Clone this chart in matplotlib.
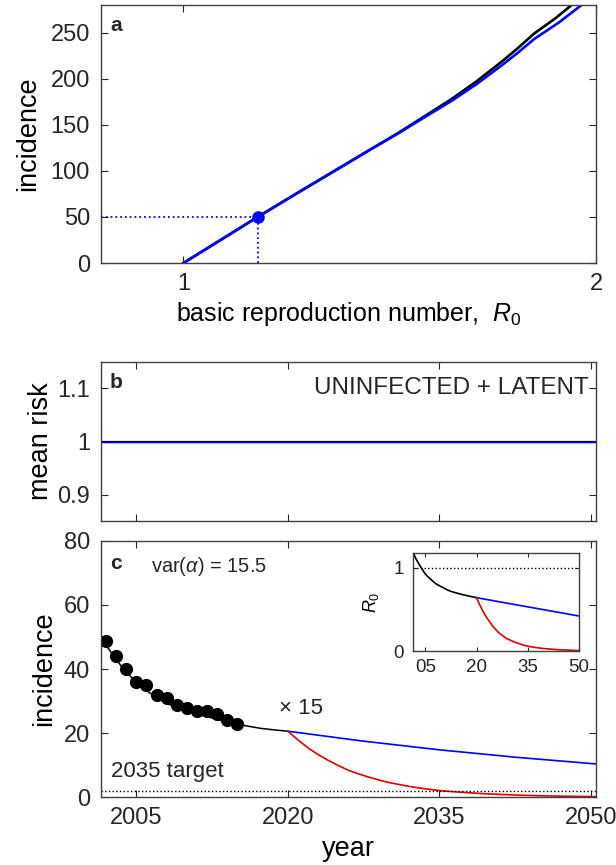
import matplotlib
matplotlib.use("Agg")
import matplotlib.pyplot as plt

plt.rcParams['font.family'] = ['Liberation Sans', 'DejaVu Sans']
plt.rcParams['mathtext.fontset'] = 'custom'
plt.rcParams['mathtext.rm'] = 'Liberation Sans'
plt.rcParams['mathtext.it'] = 'Liberation Sans:italic'
plt.rcParams['text.color'] = '#262626'
plt.rcParams['axes.edgecolor'] = '#404040'
plt.rcParams['xtick.color'] = '#262626'
plt.rcParams['ytick.color'] = '#262626'

# panel a: incidence vs R0
r0_black = [1.0, 1.09, 1.18, 1.28, 1.34, 1.40, 1.46, 1.52, 1.58, 1.65, 1.71, 1.77, 1.81, 1.85, 1.90, 1.941]
inc_black = [0, 25, 50, 77, 93, 109, 125, 141, 158, 178, 197, 218, 233, 249, 265, 280]
r0_blue = [1.0, 1.09, 1.18, 1.28, 1.34, 1.40, 1.46, 1.52, 1.58, 1.65, 1.71, 1.77, 1.81, 1.85, 1.91, 1.965]
inc_blue = [0, 25, 50, 77, 93, 109, 125, 140.5, 157, 176, 194, 214, 228, 243, 261, 280]
r0_point = 1.18
inc_point = 50

# panel b: mean risk
risk_years = [2001.5, 2050.5]
risk_vals = [1.0, 1.0]

# panel c: incidence over time
data_years = [2002, 2003, 2004, 2005, 2006, 2007, 2008, 2009, 2010, 2011, 2012, 2013, 2014, 2015]
data_inc = [48.7, 43.9, 39.9, 35.9, 34.9, 32.0, 30.9, 28.9, 27.9, 26.8, 26.8, 26.0, 24.0, 23.0]
fit_years = [2001.5, 2002.2, 2003, 2003.8, 2004.7, 2005.5, 2006.4, 2007.2, 2008, 2008.8,
             2009.7, 2010.5, 2011.3, 2012.2, 2013, 2014.6, 2016, 2017.3, 2018.7, 2020]
fit_inc = [50.5, 46.5, 43.0, 39.7, 36.8, 34.4, 32.4, 30.8, 29.3, 28.2,
           27.2, 26.4, 25.7, 25.0, 24.3, 23.1, 22.2, 21.5, 21.0, 20.6]
blue_years = [2020, 2027.5, 2035, 2042.5, 2050.5]
blue_inc = [20.6, 17.5, 14.8, 12.5, 10.4]
red_years = [2020, 2021, 2022, 2023, 2024, 2025, 2026, 2027, 2028, 2029, 2030, 2031, 2032,
             2033, 2034, 2035, 2037, 2039, 2041, 2043, 2045, 2047, 2050.5]
red_inc = [20.6, 17.9, 15.4, 13.3, 11.5, 9.9, 8.4, 7.3, 6.3, 5.4, 4.6, 4.0, 3.4,
           2.9, 2.5, 2.1, 1.6, 1.2, 0.9, 0.65, 0.48, 0.35, 0.2]
target = 2.1

# inset: R0 over time
ins_black_years = [2001.5, 2002, 2002.5, 2003, 2003.5, 2004.2, 2004.9, 2005.8, 2006.9, 2008,
                   2009.3, 2010.7, 2012.2, 2013.8, 2015.6, 2017.7, 2020]
ins_black_r0 = [1.18, 1.13, 1.09, 1.055, 1.02, 0.975, 0.93, 0.89, 0.85, 0.81,
                0.78, 0.75, 0.72, 0.70, 0.68, 0.66, 0.64]
ins_blue_years = [2020, 2027.5, 2035, 2042.5, 2050]
ins_blue_r0 = [0.64, 0.585, 0.53, 0.475, 0.42]
ins_red_years = [2020, 2021, 2022, 2023, 2024.9, 2026.5, 2028.8, 2031, 2033.7, 2036, 2039.5, 2044, 2050]
ins_red_r0 = [0.64, 0.55, 0.47, 0.40, 0.29, 0.22, 0.15, 0.11, 0.07, 0.05, 0.03, 0.015, 0.005]

year_ticks = [2005, 2020, 2035, 2050]
BLUE = '#0000ff'
RED = '#e00000'

W, H = 616, 865
fig = plt.figure(figsize=(W / 100, H / 100), dpi=100)

def box(l, t, r, b):
    return [l / W, 1 - b / H, (r - l) / W, (b - t) / H]

def style(ax, size=17, pad=7):
    ax.tick_params(direction='in', top=True, right=True, length=5, width=0.8, labelsize=size)
    ax.tick_params(axis='x', pad=pad)
    ax.tick_params(axis='y', pad=pad + 1)
    for s in ax.spines.values():
        s.set_linewidth(1.0)

# ---- a ----
ax = fig.add_axes(box(101, 5, 596, 263))
ax.plot(r0_black, inc_black, color='black', lw=1.9)
ax.plot(r0_blue, inc_blue, color=BLUE, lw=1.9)
ax.plot([0.8, r0_point], [inc_point, inc_point], ':', color=BLUE, lw=1.3)
ax.plot([r0_point, r0_point], [0, inc_point], ':', color=BLUE, lw=1.3)
ax.plot([r0_point], [inc_point], 'o', color=BLUE, ms=8)
ax.set_xlim(0.8, 2.0)
ax.set_ylim(0, 280)
ax.set_xticks([1, 2])
ax.set_yticks([0, 50, 100, 150, 200, 250])
style(ax)
ax.set_ylabel('incidence', fontsize=19.5)
ax.yaxis.set_label_coords(-0.121, 0.5)
ax.set_xlabel('basic reproduction number,  $R_0$', fontsize=18)
ax.xaxis.set_label_coords(0.5, -0.145)
ax.text(0.018, 0.922, 'a', transform=ax.transAxes, fontsize=15, fontweight='bold', va='center')

# ---- b ----
ax = fig.add_axes(box(101, 362, 596, 521))
ax.plot(risk_years, risk_vals, color='black', lw=1.6)
ax.plot(risk_years, risk_vals, color=BLUE, lw=1.0)
ax.set_xlim(2001.5, 2050.5)
ax.set_ylim(0.85, 1.15)
ax.set_xticks(year_ticks)
ax.set_xticklabels([])
ax.set_yticks([0.9, 1.0, 1.1])
ax.set_yticklabels(['0.9', '1', '1.1'])
style(ax)
ax.set_ylabel('mean risk', fontsize=19.5)
ax.yaxis.set_label_coords(-0.094, 0.5)
ax.text(0.018, 0.868, 'b', transform=ax.transAxes, fontsize=15, fontweight='bold', va='center')
ax.text(0.986, 0.836, 'UNINFECTED + LATENT', transform=ax.transAxes, fontsize=17.5, ha='right', va='center')

# ---- c ----
ax = fig.add_axes(box(101, 540.7, 596, 797.3))
ax.plot(fit_years, fit_inc, color='black', lw=1.1)
ax.plot(blue_years, blue_inc, color=BLUE, lw=1.2)
ax.plot(red_years, red_inc, color=RED, lw=1.2)
ax.plot(data_years, data_inc, 'o', color='black', ms=8.5)
ax.axhline(target, color='black', ls=':', lw=1.0)
ax.set_xlim(2001.5, 2050.5)
ax.set_ylim(0, 80)
ax.set_xticks(year_ticks)
ax.set_yticks([0, 20, 40, 60, 80])
style(ax)
ax.set_ylabel('incidence', fontsize=19.5)
ax.yaxis.set_label_coords(-0.089, 0.5)
ax.set_xlabel('year', fontsize=19.5)
ax.xaxis.set_label_coords(0.5, -0.15)
ax.text(0.018, 0.913, 'c', transform=ax.transAxes, fontsize=15, fontweight='bold', va='center')
ax.text(0.101, 0.899, r'var($\alpha$) = 15.5', transform=ax.transAxes, fontsize=14.5, va='center')
ax.text(2019.15, 27.8, '\u00d7 15', fontsize=16, va='center')
ax.text(2002.5, 8.0, '2035 target', fontsize=16, va='center')

# ---- inset ----
ax = fig.add_axes(box(413.3, 552.7, 579, 651))
ax.plot(ins_black_years, ins_black_r0, color='black', lw=1.2)
ax.plot(ins_blue_years, ins_blue_r0, color=BLUE, lw=1.2)
ax.plot(ins_red_years, ins_red_r0, color=RED, lw=1.2)
ax.axhline(1, color='black', ls=':', lw=1.0)
ax.set_xlim(2001.5, 2050)
ax.set_ylim(0, 1.18)
ax.set_xticks(year_ticks)
ax.set_xticklabels(['05', '20', '35', '50'])
ax.set_yticks([0, 1])
style(ax, size=13.5, pad=6)
ax.tick_params(length=3)
ax.set_ylabel('$R_0$', fontsize=13)
ax.yaxis.set_label_coords(-0.195, 0.5)

fig.savefig('out.png', dpi=100)
